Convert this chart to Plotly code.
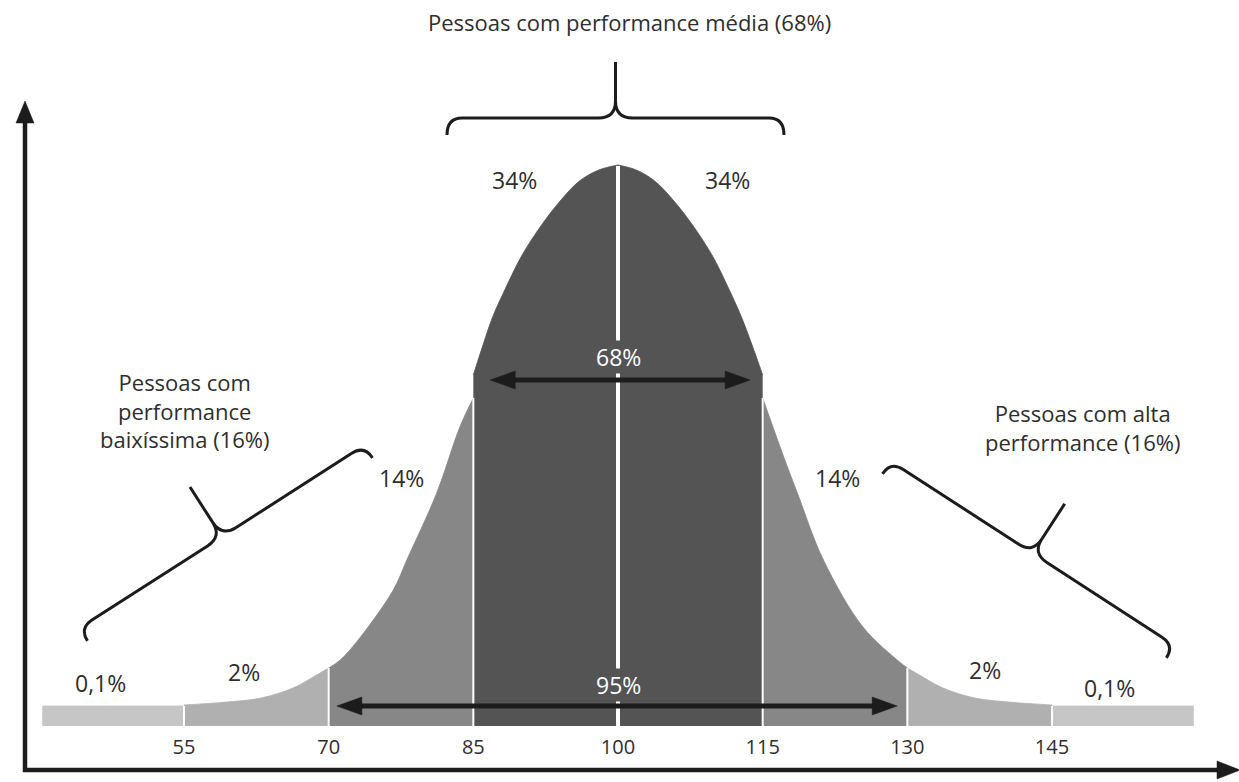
import numpy as np
import plotly.graph_objects as go

# Score scale: tick marks and visible range
tick_values = [55, 70, 85, 100, 115, 130, 145]
x_min, x_max = 35.92, 164.39
y_min, y_max = 0, 726

# Bands of the distribution, left to right: (label, colour)
band_labels = ["0,1%", "2%", "14%", "34%", "34%", "14%", "2%", "0,1%"]
band_colors = ["#c6c6c6", "#b0b0b0", "#878787", "#545454",
               "#545454", "#878787", "#b0b0b0", "#c6c6c6"]

# Top outline of each band: x positions and curve heights
tail_left_x = [40.3, 55]
tail_left_h = [20, 20]
left_2_x = [55, 59.5, 63, 66.3, 69.1, 70]
left_2_h = [21, 24, 28, 38, 53, 58]
left_14_x = [70, 71.2, 73.3, 76.7, 78.1, 81.2, 83.6, 85]
left_14_h = [58, 66, 89, 136, 166, 233, 299, 328]
left_34_x = [85, 86, 87, 88.5, 90, 92, 94, 96, 98, 100]
left_34_h = [351, 381, 409, 441, 470, 500, 525, 545, 556, 561]
right_34_x = [100, 101.9, 103.8, 105.8, 107.8, 109.8, 111.3, 112.8, 113.9, 115]
right_34_h = [561, 556, 545, 525, 500, 470, 441, 409, 381, 351]
right_14_x = [115, 117.3, 118.6, 121.3, 125.4, 129.2, 130]
right_14_h = [328, 266, 233, 166, 99, 64, 58]
right_2_x = [130, 130.9, 133.7, 137, 140.5, 145]
right_2_h = [58, 53, 38, 28, 24, 21]
tail_right_x = [145, 159.7]
tail_right_h = [20, 20]

band_outlines = [
    (tail_left_x, tail_left_h), (left_2_x, left_2_h), (left_14_x, left_14_h),
    (left_34_x, left_34_h), (right_34_x, right_34_h), (right_14_x, right_14_h),
    (right_2_x, right_2_h), (tail_right_x, tail_right_h),
]

# Where each band's share label sits (x, height)
band_label_pos = [(46.3, 43), (61.2, 54), (77.6, 248), (89.3, 546),
                  (111.4, 546), (122.8, 248), (138.1, 56), (151.0, 38)]

# Ranges spanned by the inner double arrows: (from, to, height, label, label height)
span_arrows = [(86.75, 113.7, 346, "68%", 369), (70.85, 128.95, 20, "95%", 41)]

W, H = 1239, 782
MB = 56  # bottom margin holding the tick labels
plot_h = H - MB
ux = W / (x_max - x_min)           # pixels per score unit
uy = plot_h / (y_max - y_min)      # pixels per height unit

INK = "#1c1c1c"
TEXT = "#2e2e2e"
FONT = "Open Sans"

fig = go.Figure()

for (xs, hs), color in zip(band_outlines, band_colors):
    fig.add_trace(go.Scatter(
        x=xs, y=hs, mode="lines", fill="tozeroy", fillcolor=color,
        line=dict(color=color, width=0.8, shape="spline", smoothing=1.0),
        hoverinfo="skip", showlegend=False,
    ))

shapes = []
annotations = []

# White dividers between neighbouring bands
for (xa, ha), (xb, hb) in zip(band_outlines[:-1], band_outlines[1:]):
    edge = xa[-1]
    if edge == 100:
        continue
    shapes.append(dict(type="line", xref="x", yref="y", x0=edge, x1=edge,
                       y0=0, y1=min(ha[-1], hb[0]), line=dict(color="white", width=2)))

# Wider white divider down the middle of the curve
shapes.append(dict(type="line", xref="x", yref="y", x0=100, x1=100,
                   y0=0, y1=left_34_h[-1] - 1, line=dict(color="white", width=4)))


def to_screen(x, y):
    return np.array([(x - x_min) * ux, (y - y_min) * uy])


def to_data(p):
    return p[0] / ux + x_min, p[1] / uy + y_min


def brace_path(a, b, tip=58, hook=15, curl=15, cusp=17):
    """Curly brace between data points a and b, its tip on the left of a->b."""
    A, B = to_screen(*a), to_screen(*b)
    L = np.linalg.norm(B - A)
    u = (B - A) / L
    n = np.array([-u[1], u[0]])

    def P(t, s):
        x, y = to_data(A + t * u + s * n)
        return f"{x:.4f},{y:.4f}"

    m = L / 2
    return (f"M{P(0, -hook)} Q{P(0, 0)} {P(curl, 0)} L{P(m - cusp, 0)} "
            f"Q{P(m, 0)} {P(m, cusp)} L{P(m, tip)} "
            f"M{P(m, cusp)} Q{P(m, 0)} {P(m + cusp, 0)} L{P(L - curl, 0)} "
            f"Q{P(L, 0)} {P(L, -hook)}")


# Braces grouping the middle, low and high performers
braces = [((82.27, 608), (117.21, 608), 56, 17),
          ((44.15, 97.8), (73.70, 280.8), 59, 15),
          ((128.27, 264.7), (157.71, 80.7), 59, 15)]
for a, b, tip, hook in braces:
    shapes.append(dict(type="path", xref="x", yref="y",
                       path=brace_path(a, b, tip=tip, hook=hook),
                       line=dict(color=INK, width=3)))


def arrow_head(tip_x, y, direction, length_px=25, half_px=9):
    back = tip_x - direction * length_px / ux
    hy = half_px / uy
    return dict(type="path", xref="x", yref="y",
                path=f"M{tip_x},{y} L{back},{y + hy} L{back},{y - hy} Z",
                fillcolor=INK, line=dict(color=INK, width=0.5))


for x0, x1, y, label, label_y in span_arrows:
    inset = 20 / ux
    shapes.append(dict(type="line", xref="x", yref="y", x0=x0 + inset, x1=x1 - inset,
                       y0=y, y1=y, line=dict(color=INK, width=5)))
    shapes.append(arrow_head(x0, y, -1))
    shapes.append(arrow_head(x1, y, 1))
    annotations.append(dict(x=100, y=label_y, xref="x", yref="y", text=label,
                            showarrow=False, bgcolor="#545454", borderpad=0,
                            font=dict(family=FONT, size=23, color="white")))

# Band share labels
for (bx, by), text in zip(band_label_pos, band_labels):
    annotations.append(dict(x=bx, y=by, xref="x", yref="y", text=text, showarrow=False,
                            font=dict(family=FONT, size=23, color=TEXT)))

# Group captions
captions = [
    (101.2, 704, "Pessoas com performance média (68%)"),
    (55.1, 316, "Pessoas com<br>performance<br>baixíssima (16%)"),
    (148.2, 299, "Pessoas com alta<br>performance (16%)"),
]
for cx, cy, text in captions:
    annotations.append(dict(x=cx, y=cy, xref="x", yref="y", text=text, showarrow=False,
                            align="center",
                            font=dict(family=FONT, size=22, color=TEXT)))


# Axis arrows (outside the plotting area, in paper units)
def paper(px_, py_):
    return px_ / W, (plot_h - py_) / plot_h


ax_x, ax_y, top_y, right_x = 25, 770, 120, 1220
x0p, y0p = paper(ax_x, ax_y)
_, ytp = paper(ax_x, top_y)
xrp, _ = paper(right_x, ax_y)
shapes.append(dict(type="line", xref="paper", yref="paper", x0=x0p, x1=x0p,
                   y0=y0p - 2 / plot_h, y1=ytp, line=dict(color=INK, width=4.5)))
shapes.append(dict(type="line", xref="paper", yref="paper", x0=x0p - 2 / W, x1=xrp,
                   y0=y0p, y1=y0p, line=dict(color=INK, width=4.5)))
tx, ty = paper(ax_x, 101)
bx_, by_ = paper(ax_x, 123)
hw = 9 / W
shapes.append(dict(type="path", xref="paper", yref="paper",
                   path=f"M{tx},{ty} L{bx_ + hw},{by_} L{bx_ - hw},{by_} Z",
                   fillcolor=INK, line=dict(color=INK, width=0.5)))
tx, ty = paper(1240, ax_y)
bx_, by_ = paper(1217, ax_y)
hh = 9 / plot_h
shapes.append(dict(type="path", xref="paper", yref="paper",
                   path=f"M{tx},{ty} L{bx_},{by_ + hh} L{bx_},{by_ - hh} Z",
                   fillcolor=INK, line=dict(color=INK, width=0.5)))

fig.update_layout(
    width=W, height=H,
    margin=dict(l=0, r=0, t=0, b=MB),
    paper_bgcolor="white", plot_bgcolor="white",
    shapes=shapes, annotations=annotations,
    xaxis=dict(range=[x_min, x_max], tickvals=tick_values,
               ticktext=[str(v) for v in tick_values],
               showgrid=False, zeroline=False, showline=False, ticks="",
               ticklabelstandoff=7,
               tickfont=dict(family=FONT, size=20, color=TEXT), fixedrange=True),
    yaxis=dict(range=[y_min, y_max], visible=False, fixedrange=True),
    showlegend=False,
)

fig.write_html("out.html")
